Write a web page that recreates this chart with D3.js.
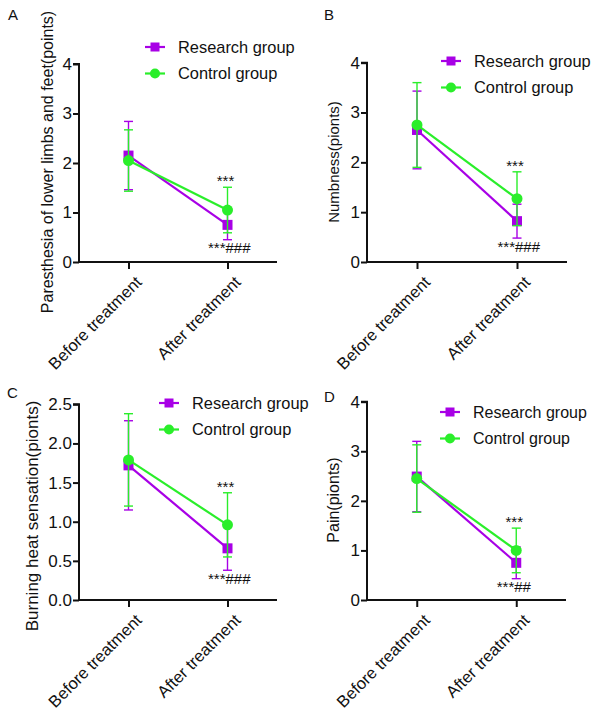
<!DOCTYPE html>
<html>
<head>
<meta charset="utf-8">
<script src="https://cdn.jsdelivr.net/npm/d3@7"></script>
<style>
  html, body { margin: 0; padding: 0; background: #fff; }
  svg { display: block; font-family: Arial, "Liberation Sans", Helvetica, sans-serif; }
</style>
</head>
<body>
<svg id="chart" width="596" height="713"></svg>
<script>
// ---------------- DATA ----------------
const categories = ["Before treatment", "After treatment"];
const seriesNames = ["Research group", "Control group"];

const panelLetters = ["A", "B", "C", "D"];
const yLabels = [
  "Paresthesia of lower limbs and feet(points)",
  "Numbness(pionts)",
  "Burning heat sensation(pionts)",
  "Pain(pionts)"
];
const yMaxes = [4, 4, 2.5, 4];
const yTickValues = [
  [0, 1, 2, 3, 4],
  [0, 1, 2, 3, 4],
  [0, 0.5, 1.0, 1.5, 2.0, 2.5],
  [0, 1, 2, 3, 4]
];
const yTickFormats = ["d", "d", ".1f", "d"];

// means [before, after]
const researchMeans = [[2.15, 0.75], [2.65, 0.82], [1.72, 0.66], [2.49, 0.75]];
const researchErrors = [[0.69, 0.30], [0.78, 0.34], [0.57, 0.28], [0.71, 0.32]];
const controlMeans = [[2.05, 1.05], [2.75, 1.27], [1.79, 0.96], [2.45, 1.00]];
const controlErrors = [[0.62, 0.46], [0.85, 0.54], [0.59, 0.41], [0.68, 0.45]];

// significance annotations at "After treatment"
const starsControl = ["***", "***", "***", "***"];
const starsResearch = ["***", "***", "***", "***"];
const hashesResearch = ["###", "###", "###", "##"];

// ---------------- LAYOUT ----------------
const layout = [
  { x0: 79,  x1: 277,  y0: 262, yTop: 64,    letter: [8, 20],   labelX: 47,  labelCY: 162, labelFS: 16, tickFS: 17, legX: 155, legY: 47,  legFS: 16.4 },
  { x0: 367, x1: 567,  y0: 262, yTop: 62.7,  letter: [324, 20], labelX: 334, labelCY: 162, labelFS: 15, tickFS: 17, legX: 451, legY: 61,  legFS: 16.4 },
  { x0: 79,  x1: 277,  y0: 600, yTop: 404.3, letter: [7, 398],  labelX: 32,  labelCY: 516, labelFS: 17, tickFS: 17, legX: 169, legY: 403, legFS: 16.4 },
  { x0: 367, x1: 566,  y0: 600, yTop: 401.7, letter: [324, 402],labelX: 333, labelCY: 500, labelFS: 16, tickFS: 17, legX: 450, legY: 412, legFS: 16 }
];

const colors = ["#A800E6", "#2AEE2A"];
const svg = d3.select("#chart");

layout.forEach((L, i) => {
  const g = svg.append("g");
  const x = d3.scalePoint().domain(categories).range([L.x0, L.x1]).padding(0.5);
  const y = d3.scaleLinear().domain([0, yMaxes[i]]).range([L.y0, L.yTop]);

  // panel letter
  g.append("text").attr("x", L.letter[0]).attr("y", L.letter[1])
    .attr("font-size", 15).attr("fill", "#111").text(panelLetters[i]);

  // y axis
  const yAxis = d3.axisLeft(y).tickValues(yTickValues[i])
    .tickFormat(d3.format(yTickFormats[i])).tickSize(6).tickPadding(1);
  const ya = g.append("g").attr("transform", `translate(${L.x0},0)`).call(yAxis);
  ya.select(".domain").attr("stroke", "#111").attr("stroke-width", 2).attr("d", `M-6,${y(yMaxes[i])}H0V${L.y0}`);
  ya.selectAll(".tick line").attr("stroke", "#111").attr("stroke-width", 2);
  ya.selectAll(".tick text").attr("font-size", L.tickFS).attr("fill", "#111")
    .attr("font-family", "Arial, 'Liberation Sans', sans-serif");

  // x axis
  const xAxis = d3.axisBottom(x).tickSize(7).tickFormat("");
  const xa = g.append("g").attr("transform", `translate(0,${L.y0})`).call(xAxis);
  xa.select(".domain").attr("stroke", "#111").attr("stroke-width", 2).attr("d", `M${L.x0 - 1},0H${L.x1}`);
  xa.selectAll(".tick line").attr("stroke", "#111").attr("stroke-width", 2);

  // rotated x labels
  g.selectAll(".xlab").data(categories).enter().append("text")
    .attr("class", "xlab")
    .attr("transform", d => `translate(${x(d) + 6},${L.y0 + 13}) rotate(-45)`)
    .attr("text-anchor", "end")
    .attr("dy", "0.7em")
    .attr("font-size", 16.6).attr("fill", "#111")
    .text(d => d);

  // y label
  g.append("text")
    .attr("transform", `translate(${L.labelX},${L.labelCY}) rotate(-90)`)
    .attr("text-anchor", "middle").attr("dy", "0.35em")
    .attr("font-size", L.labelFS).attr("fill", "#111")
    .text(yLabels[i]);

  const series = [
    { name: seriesNames[0], means: researchMeans[i], errs: researchErrors[i], color: colors[0], shape: "square" },
    { name: seriesNames[1], means: controlMeans[i], errs: controlErrors[i], color: colors[1], shape: "circle" }
  ];

  series.forEach(s => {
    const pts = categories.map((c, k) => ({ c, m: s.means[k], e: s.errs[k] }));
    // error bars
    pts.forEach(p => {
      const cx = x(p.c);
      const eg = g.append("g").attr("stroke", s.color).attr("stroke-width", 1.4);
      eg.append("line").attr("x1", cx).attr("x2", cx).attr("y1", y(p.m + p.e)).attr("y2", y(p.m - p.e));
      eg.append("line").attr("x1", cx - 4.5).attr("x2", cx + 4.5).attr("y1", y(p.m + p.e)).attr("y2", y(p.m + p.e));
      eg.append("line").attr("x1", cx - 4.5).attr("x2", cx + 4.5).attr("y1", y(p.m - p.e)).attr("y2", y(p.m - p.e));
    });
    // line
    g.append("path").datum(pts)
      .attr("fill", "none").attr("stroke", s.color).attr("stroke-width", 2.2)
      .attr("d", d3.line().x(p => x(p.c)).y(p => y(p.m)));
    // markers
    pts.forEach(p => {
      if (s.shape === "square") {
        g.append("rect").attr("x", x(p.c) - 5).attr("y", y(p.m) - 5)
          .attr("width", 10).attr("height", 10).attr("fill", s.color);
      } else {
        g.append("circle").attr("cx", x(p.c)).attr("cy", y(p.m)).attr("r", 5.5).attr("fill", s.color);
      }
    });
  });

  // annotations
  const ax = x(categories[1]);
  const cTop = y(controlMeans[i][1] + controlErrors[i][1]);
  g.append("text").attr("x", ax - 2).attr("y", cTop - 1)
    .attr("text-anchor", "middle").attr("font-size", 15).attr("fill", "#111")
    .text(starsControl[i]);
  const rBot = y(researchMeans[i][1] - researchErrors[i][1]);
  g.append("text").attr("x", ax - 2).attr("y", rBot + 13.5)
    .attr("text-anchor", "end").attr("font-size", 15).attr("fill", "#111")
    .text(starsResearch[i]);
  g.append("text").attr("x", ax - 2).attr("y", rBot + 13.5)
    .attr("text-anchor", "start").attr("font-size", 15).attr("fill", "#111")
    .text(hashesResearch[i]);

  // legend
  series.forEach((s, k) => {
    const ly = L.legY + k * 26.5;
    const lg = g.append("g");
    lg.append("line").attr("x1", L.legX - 10).attr("x2", L.legX + 10).attr("y1", ly).attr("y2", ly)
      .attr("stroke", s.color).attr("stroke-width", 2.2);
    if (s.shape === "square") {
      lg.append("rect").attr("x", L.legX - 4.5).attr("y", ly - 4.5).attr("width", 9).attr("height", 9).attr("fill", s.color);
    } else {
      lg.append("circle").attr("cx", L.legX).attr("cy", ly).attr("r", 5).attr("fill", s.color);
    }
    lg.append("text").attr("x", L.legX + 23).attr("y", ly).attr("dy", "0.35em")
      .attr("font-size", L.legFS).attr("fill", "#111").text(s.name);
  });
});
</script>
</body>
</html>
